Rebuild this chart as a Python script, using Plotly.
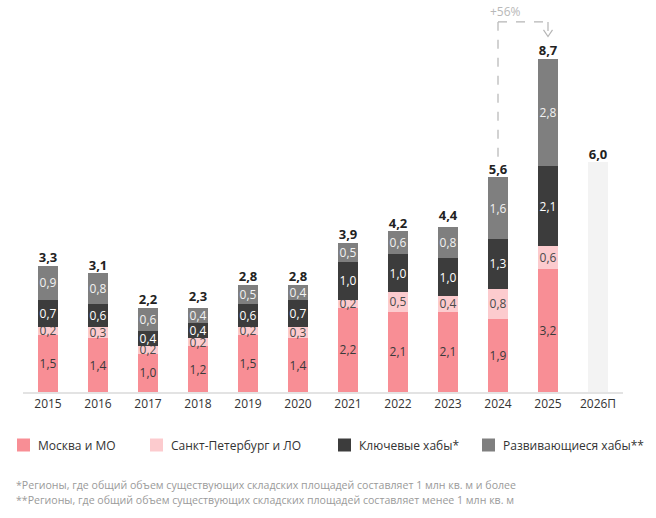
import plotly.graph_objects as go

years = ["2015", "2016", "2017", "2018", "2019", "2020", "2021", "2022", "2023", "2024", "2025", "2026П"]
moscow = [1.5, 1.4, 1.0, 1.2, 1.5, 1.4, 2.2, 2.1, 2.1, 1.9, 3.2, None]
spb = [0.2, 0.3, 0.2, 0.2, 0.2, 0.3, 0.2, 0.5, 0.4, 0.8, 0.6, None]
key_hubs = [0.7, 0.6, 0.4, 0.4, 0.6, 0.7, 1.0, 1.0, 1.0, 1.3, 2.1, None]
dev_hubs = [0.9, 0.8, 0.6, 0.4, 0.5, 0.4, 0.5, 0.6, 0.8, 1.6, 2.8, None]
forecast = [None] * 11 + [6.0]
totals = [3.3, 3.1, 2.2, 2.3, 2.8, 2.8, 3.9, 4.2, 4.4, 5.6, 8.7, 6.0]

names = ["Москва и МО", "Санкт-Петербург и ЛО", "Ключевые хабы*", "Развивающиеся хабы**"]
colors = ["#F88E95", "#FCCBCE", "#3C3C3C", "#7F7F7F"]
text_colors = ["#3a3a3a", "#4a4a4a", "#ffffff", "#f2f2f2"]
growth_label = "+56%"
footnotes = [
    "*Регионы, где общий объем существующих складских площадей составляет 1 млн кв. м и более",
    "**Регионы, где общий объем существующих складских площадей составляет менее 1 млн кв. м",
]

FONT = "Open Sans"
W, H = 656, 518
ML, MR, MT, MB = 23, 33, 20, 126
PW, PH = W - ML - MR, H - MT - MB


def px_x(px):
    return (px - ML) / PW


def px_y(py):
    return (H - MB - py) / PH


fig = go.Figure()
for vals, name, col, tcol in zip([moscow, spb, key_hubs, dev_hubs], names, colors, text_colors):
    fig.add_trace(go.Bar(
        x=years, y=vals, name=name, marker=dict(color=col, line=dict(width=0)),
        width=0.4, texttemplate="%{y:.1f}", textposition="inside",
        insidetextanchor="middle", textangle=0, constraintext="none",
        textfont=dict(family=FONT, size=12, color=tcol), hoverinfo="skip", showlegend=False,
    ))
fig.add_trace(go.Bar(
    x=years, y=forecast, name="forecast", showlegend=False,
    marker=dict(color="#F3F3F3", line=dict(width=0)), width=0.4, hoverinfo="skip",
))
fig.add_trace(go.Scatter(
    x=years, y=totals, mode="text", text=[f"{v:.1f}".replace(".", ",") for v in totals],
    textposition="top center", textfont=dict(family=FONT, size=13, color="#222222", weight="bold"),
    showlegend=False, hoverinfo="skip", cliponaxis=False,
))

# growth bracket between 2024 and 2025
i0, i1 = years.index("2024"), years.index("2025")
dash = dict(color="#B5B5B5", width=1.2, dash="dash")
y_top = 9.66
fig.add_shape(type="line", x0=i0, x1=i0, y0=6.14, y1=y_top, line=dash)
fig.add_shape(type="line", x0=i0, x1=i1, y0=y_top, y1=y_top, line=dash)
fig.add_shape(type="line", x0=i1, x1=i1, y0=y_top, y1=9.28, line=dash)
fig.add_shape(type="path", path=f"M {i1-0.09},9.45 L {i1},9.28 L {i1+0.09},9.45",
              line=dict(color="#B5B5B5", width=1.2))
fig.add_annotation(xref="paper", yref="paper", x=((i0 + i1) / 2 + 0.5) / len(years), y=px_y(11),
                   text=growth_label, showarrow=False, yanchor="middle",
                   font=dict(family=FONT, size=12, color="#B8B8B8"))

# legend
leg_x = [17, 150, 338, 482]
for name, col, lx in zip(names, colors, leg_x):
    fig.add_shape(type="rect", xref="paper", yref="paper",
                  x0=px_x(lx), x1=px_x(lx + 13), y0=px_y(438.5), y1=px_y(451.5),
                  fillcolor=col, line=dict(width=0))
    fig.add_annotation(xref="paper", yref="paper", x=px_x(lx + 19), y=px_y(445),
                       xanchor="left", yanchor="middle", text=name, showarrow=False,
                       font=dict(family=FONT, size=12, color="#333333"))

for k, t in enumerate(footnotes):
    fig.add_annotation(xref="paper", yref="paper", x=px_x(14), y=px_y(485 + 15 * k),
                       xanchor="left", yanchor="middle", text=t, showarrow=False,
                       font=dict(family=FONT, size=10.6, color="#9a9a9a"))

fig.update_layout(
    width=W, height=H, barmode="stack", separators=", ",
    margin=dict(l=ML, r=MR, t=MT, b=MB),
    paper_bgcolor="white", plot_bgcolor="white",
    font=dict(family=FONT, size=12, color="#333333"),
    showlegend=False,
    xaxis=dict(type="category", range=[-0.5, 11.5], showline=True, linecolor="#E3E3E3",
               linewidth=1.5, showgrid=False, ticks="", tickfont=dict(size=12, color="#333333")),
    yaxis=dict(range=[0, 9.71], visible=False, showgrid=False),
)
fig.write_html("out.html")
